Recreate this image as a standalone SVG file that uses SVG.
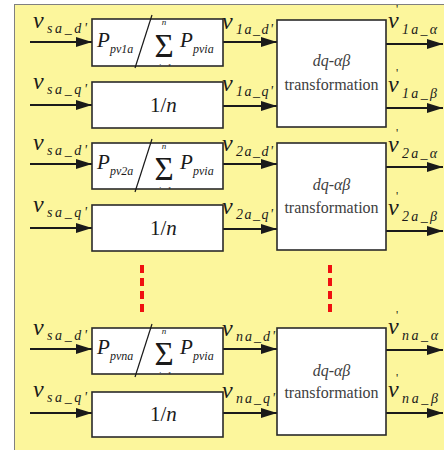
<svg xmlns="http://www.w3.org/2000/svg" width="444" height="450" viewBox="0 0 444 450">
<style>
.bg{fill:#FCF69C;stroke:#808080;stroke-width:1}
.box{fill:#fff;stroke:#2a2a2a;stroke-width:1.6}
.ln{stroke:#1a1a1a;stroke-width:2;fill:none}
.sl{stroke:#1a1a1a;stroke-width:1.2;fill:none}
.dots{stroke:#f01010;stroke-width:4;stroke-dasharray:8 5;fill:none}
.u{font-family:'Liberation Serif','DejaVu Serif',serif;fill:#1a1a1a}
.v{font-size:24px;font-style:italic}
.s{font-size:14px;font-style:italic}
.P{font-size:21px;font-style:italic}
.ps{font-size:12px;font-style:italic}
.sig{font-size:33px}
.lim{font-size:9px;font-style:italic}
.one{font-size:21px}
.tr{font-size:16px;fill:#404040}
.dq{font-size:16px;font-style:italic;fill:#404040}
.pr{font-size:12px;font-style:normal}
</style>
<defs>
<marker id="ah" markerUnits="userSpaceOnUse" markerWidth="16" markerHeight="10" refX="16" refY="5" orient="auto">
<path d="M0,0 L16,5 L0,10 z" fill="#1a1a1a"/>
</marker>
<clipPath id="c1" clipPathUnits="userSpaceOnUse"><rect x="92" y="19" width="131" height="47"/></clipPath>
<clipPath id="c2" clipPathUnits="userSpaceOnUse"><rect x="92" y="143" width="131" height="46"/></clipPath>
<clipPath id="c3" clipPathUnits="userSpaceOnUse"><rect x="92" y="328" width="131" height="46"/></clipPath>
</defs>
<rect class="bg" x="14.5" y="4.5" width="440" height="450"/>

<g id="connectors">
<path class="ln" marker-end="url(#ah)" d="M30,42 H92"/>
<path class="ln" marker-end="url(#ah)" d="M30,105 H92"/>
<path class="ln" marker-end="url(#ah)" d="M223,42 H277"/>
<path class="ln" marker-end="url(#ah)" d="M223,106 H277"/>
<path class="ln" marker-end="url(#ah)" d="M386,44 H443"/>
<path class="ln" marker-end="url(#ah)" d="M386,108 H443"/>
<path class="ln" marker-end="url(#ah)" d="M30,164 H92"/>
<path class="ln" marker-end="url(#ah)" d="M30,228 H92"/>
<path class="ln" marker-end="url(#ah)" d="M223,164 H277"/>
<path class="ln" marker-end="url(#ah)" d="M223,229 H277"/>
<path class="ln" marker-end="url(#ah)" d="M386,167 H443"/>
<path class="ln" marker-end="url(#ah)" d="M386,231 H443"/>
<path class="ln" marker-end="url(#ah)" d="M30,349 H92"/>
<path class="ln" marker-end="url(#ah)" d="M30,413 H92"/>
<path class="ln" marker-end="url(#ah)" d="M223,349 H277"/>
<path class="ln" marker-end="url(#ah)" d="M223,413 H277"/>
<path class="ln" marker-end="url(#ah)" d="M386,350 H443"/>
<path class="ln" marker-end="url(#ah)" d="M386,413 H443"/>
<path class="dots" d="M142,265 V316"/>
<path class="dots" d="M330,265 V316"/>
</g>

<g id="ratio1">
<rect class="box" x="92" y="19" width="131" height="47"/>
<text class="u P" x="97" y="47">P</text><text class="u ps" x="110" y="53">pv1a</text>
<line class="sl" x1="152" y1="15" x2="135" y2="68"/>
<text class="u lim" x="164" y="25" text-anchor="middle">n</text>
<text class="u sig" x="164" y="57" text-anchor="middle">Σ</text>
<text class="u lim" x="165" y="70" text-anchor="middle" clip-path="url(#c1)">i=1</text>
<text class="u P" x="180" y="47">P</text><text class="u ps" x="193" y="53">pvia</text>
</g>
<g id="inv1">
<rect class="box" x="92" y="82" width="131" height="46"/>
<text class="u one" x="150" y="112">1/<tspan font-style="italic">n</tspan></text>
</g>
<g id="trans1">
<rect class="box" x="277" y="20" width="109" height="107"/>
<text class="u dq" x="331.5" y="66" text-anchor="middle">dq-αβ</text>
<text class="u tr" x="331.5" y="90" text-anchor="middle">transformation</text>
</g>

<g id="ratio2">
<rect class="box" x="92" y="143" width="131" height="46"/>
<text class="u P" x="97" y="169">P</text><text class="u ps" x="110" y="175">pv2a</text>
<line class="sl" x1="152" y1="139" x2="135" y2="192"/>
<text class="u lim" x="164" y="149" text-anchor="middle">n</text>
<text class="u sig" x="164" y="180" text-anchor="middle">Σ</text>
<text class="u lim" x="165" y="193" text-anchor="middle" clip-path="url(#c2)">i=1</text>
<text class="u P" x="180" y="169">P</text><text class="u ps" x="193" y="175">pvia</text>
</g>
<g id="inv2">
<rect class="box" x="92" y="205" width="131" height="46"/>
<text class="u one" x="150" y="235">1/<tspan font-style="italic">n</tspan></text>
</g>
<g id="trans2">
<rect class="box" x="277" y="143" width="109" height="107"/>
<text class="u dq" x="331.5" y="190" text-anchor="middle">dq-αβ</text>
<text class="u tr" x="331.5" y="213" text-anchor="middle">transformation</text>
</g>

<g id="ratio3">
<rect class="box" x="92" y="328" width="131" height="46"/>
<text class="u P" x="97" y="354">P</text><text class="u ps" x="110" y="360">pvna</text>
<line class="sl" x1="152" y1="324" x2="135" y2="377"/>
<text class="u lim" x="164" y="334" text-anchor="middle">n</text>
<text class="u sig" x="164" y="365" text-anchor="middle">Σ</text>
<text class="u lim" x="165" y="378" text-anchor="middle" clip-path="url(#c3)">i=1</text>
<text class="u P" x="180" y="354">P</text><text class="u ps" x="193" y="360">pvia</text>
</g>
<g id="inv3">
<rect class="box" x="92" y="392" width="131" height="45"/>
<text class="u one" x="150" y="421">1/<tspan font-style="italic">n</tspan></text>
</g>
<g id="trans3">
<rect class="box" x="277" y="328" width="109" height="107"/>
<text class="u dq" x="331.5" y="376" text-anchor="middle">dq-αβ</text>
<text class="u tr" x="331.5" y="398" text-anchor="middle">transformation</text>
</g>

<g id="labels">
<text class="u v" x="33" y="28">v</text><text class="u s" x="47" y="33" textLength="40" lengthAdjust="spacing">sa_d'</text>
<text class="u v" x="33" y="89">v</text><text class="u s" x="47" y="94" textLength="40" lengthAdjust="spacing">sa_q'</text>
<text class="u v" x="222" y="29">v</text><text class="u s" x="236" y="34" textLength="37" lengthAdjust="spacing">1a_d'</text>
<text class="u v" x="222" y="91">v</text><text class="u s" x="236" y="96" textLength="37" lengthAdjust="spacing">1a_q'</text>
<text class="u v" x="388" y="28">v<tspan class="pr" x="396" y="13">'</tspan></text><text class="u s" x="402" y="34" textLength="35" lengthAdjust="spacing">1a_α</text>
<text class="u v" x="388" y="92">v<tspan class="pr" x="396" y="77">'</tspan></text><text class="u s" x="402" y="98" textLength="35" lengthAdjust="spacing">1a_β</text>
<text class="u v" x="33" y="150">v</text><text class="u s" x="47" y="155" textLength="40" lengthAdjust="spacing">sa_d'</text>
<text class="u v" x="33" y="212">v</text><text class="u s" x="47" y="217" textLength="40" lengthAdjust="spacing">sa_q'</text>
<text class="u v" x="222" y="151">v</text><text class="u s" x="236" y="156" textLength="37" lengthAdjust="spacing">2a_d'</text>
<text class="u v" x="222" y="214">v</text><text class="u s" x="236" y="219" textLength="37" lengthAdjust="spacing">2a_q'</text>
<text class="u v" x="388" y="152">v<tspan class="pr" x="396" y="137">'</tspan></text><text class="u s" x="402" y="158" textLength="35" lengthAdjust="spacing">2a_α</text>
<text class="u v" x="388" y="215">v<tspan class="pr" x="396" y="200">'</tspan></text><text class="u s" x="402" y="221" textLength="35" lengthAdjust="spacing">2a_β</text>
<text class="u v" x="33" y="335">v</text><text class="u s" x="47" y="340" textLength="40" lengthAdjust="spacing">sa_d'</text>
<text class="u v" x="33" y="397">v</text><text class="u s" x="47" y="402" textLength="40" lengthAdjust="spacing">sa_q'</text>
<text class="u v" x="222" y="336">v</text><text class="u s" x="236" y="341" textLength="39" lengthAdjust="spacing">na_d'</text>
<text class="u v" x="222" y="398">v</text><text class="u s" x="236" y="403" textLength="39" lengthAdjust="spacing">na_q'</text>
<text class="u v" x="388" y="334">v<tspan class="pr" x="396" y="319">'</tspan></text><text class="u s" x="402" y="340" textLength="36" lengthAdjust="spacing">na_α</text>
<text class="u v" x="388" y="397">v<tspan class="pr" x="396" y="382">'</tspan></text><text class="u s" x="402" y="403" textLength="36" lengthAdjust="spacing">na_β</text>
</g>
</svg>
